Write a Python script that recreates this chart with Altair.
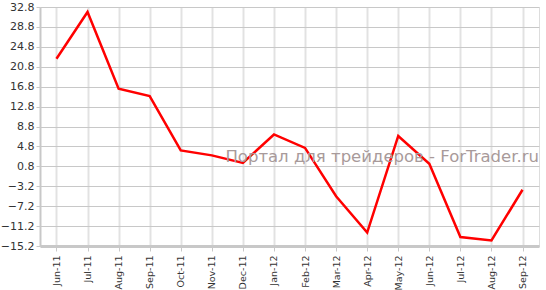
import altair as alt
import pandas as pd

months = ["Jun-11", "Jul-11", "Aug-11", "Sep-11", "Oct-11", "Nov-11", "Dec-11",
          "Jan-12", "Feb-12", "Mar-12", "Apr-12", "May-12", "Jun-12", "Jul-12",
          "Aug-12", "Sep-12"]
values = [22.4, 31.8, 16.4, 14.9, 4.0, 3.0, 1.5, 7.2, 4.5, -5.2, -12.5, 6.9,
          1.3, -13.4, -14.1, -3.9]
y_ticks = [-15.2, -11.2, -7.2, -3.2, 0.8, 4.8, 8.8, 12.8, 16.8, 20.8, 24.8, 28.8, 32.8]
watermark = "Портал для трейдеров - ForTrader.ru"

df = pd.DataFrame({"month": months, "value": values})

base = alt.Chart(df)

line = base.mark_line(color="#ff0000", strokeWidth=2.5).encode(
    x=alt.X("month:O", sort=months,
            scale=alt.Scale(type="point", padding=0.53),
            axis=alt.Axis(title=None, labelAngle=-90, labelFontSize=9.5,
                          labelFont="DejaVu Sans", labelColor="#333333",
                          labelPadding=4, labelBaseline="middle",
                          grid=True, gridColor="#e2e2e2", gridWidth=2,
                          domainColor="#c8c8c8", domainWidth=3,
                          tickColor="#c8c8c8", tickSize=5, tickWidth=1)),
    y=alt.Y("value:Q",
            scale=alt.Scale(domain=[-15.2, 32.8], nice=False, zero=False),
            axis=alt.Axis(title=None, values=y_ticks, format=".1f",
                          labelFontSize=11, labelFont="DejaVu Sans",
                          labelColor="#333333", labelPadding=2,
                          grid=True, gridColor="#c8c8c8", gridWidth=1,
                          domainColor="#c8c8c8", domainWidth=2,
                          tickColor="#c8c8c8", tickSize=4, tickWidth=1)),
)

text = alt.Chart(pd.DataFrame({"t": [watermark]})).mark_text(
    align="right", baseline="alphabetic", fontSize=16.5, font="DejaVu Sans",
    color="#a89a9a",
).encode(text="t:N", x=alt.value(499), y=alt.value(155))

chart = alt.layer(line, text).properties(
    width=499, height=239,
    autosize=alt.AutoSizeParams(type="none"),
    padding={"left": 40, "top": 7, "right": 7, "bottom": 44},
).configure_view(stroke=None).configure(background="#ffffff")

chart.save("out.html", embed_options={"renderer": "svg", "actions": False})
